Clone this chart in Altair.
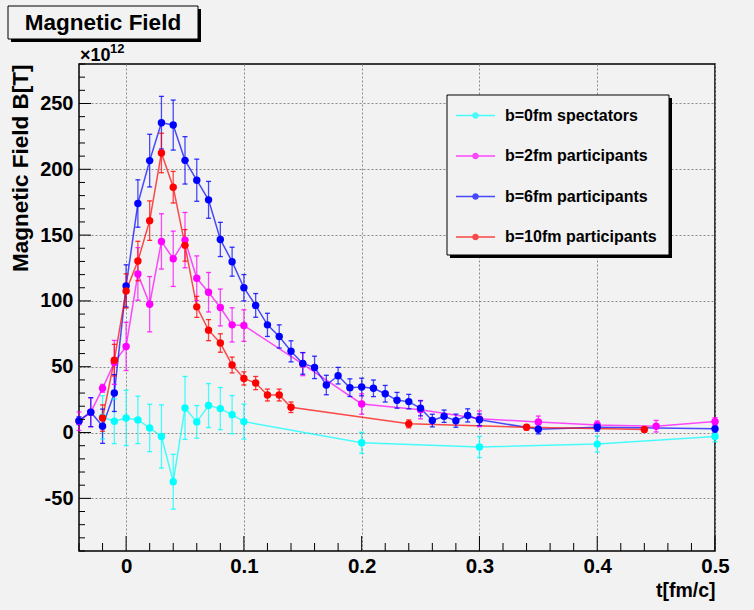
import altair as alt
import pandas as pd

# ---------------- data ----------------
names = ["b=0fm spectators", "b=2fm participants", "b=6fm participants", "b=10fm participants"]
colors = ["#00ffff", "#ff00ff", "#0000ff", "#ff0000"]

t_b0 = [-0.02, -0.01, 0.0, 0.01, 0.02, 0.03, 0.04, 0.05, 0.06, 0.07, 0.08, 0.09, 0.1, 0.2, 0.3, 0.4, 0.5]
B_b0 = [11.6, 8.6, 11.1, 9.6, 3.5, -3.0, -37.4, 18.7, 8.1, 20.5, 18.2, 13.6, 8.3, -7.8, -11.0, -8.8, -3.0]
E_b0 = [16.4, 17.0, 21.0, 18.0, 18.0, 24.0, 20.8, 23.9, 12.4, 16.7, 16.0, 14.5, 13.3, 8.0, 8.0, 6.0, 4.0]

t_b2 = [-0.04, -0.03, -0.02, -0.01, 0.0, 0.01, 0.02, 0.03, 0.04, 0.05, 0.06, 0.07, 0.08, 0.09, 0.1,
        0.15, 0.2, 0.25, 0.3, 0.35, 0.4, 0.45, 0.5]
B_b2 = [8.6, 15.4, 33.6, 53.3, 65.4, 120.5, 97.5, 145.2, 132.0, 146.2, 117.2, 106.6, 95.0, 81.8, 81.3,
        52.0, 21.7, 17.4, 10.4, 8.1, 5.8, 4.8, 8.3]
E_b2 = [7.0, 11.0, 3.0, 16.7, 18.3, 20.0, 21.0, 21.0, 21.0, 21.0, 17.0, 15.0, 14.0, 13.0, 12.0,
        8.8, 7.8, 7.0, 6.0, 4.4, 3.0, 4.4, 3.0]

t_b6 = [-0.04, -0.03, -0.02, -0.01, 0.0, 0.01, 0.02, 0.03, 0.04, 0.05, 0.06, 0.07, 0.08, 0.09, 0.1,
        0.11, 0.12, 0.13, 0.14, 0.15, 0.16, 0.17, 0.18, 0.19, 0.2, 0.21, 0.22, 0.23, 0.24, 0.25,
        0.26, 0.27, 0.28, 0.29, 0.3, 0.35, 0.4, 0.5]
B_b6 = [9.0, 15.5, 4.8, 30.0, 111.4, 174.0, 206.6, 235.4, 233.6, 206.8, 191.7, 176.8, 146.7, 129.8, 110.0,
        96.6, 81.8, 73.0, 61.7, 52.5, 49.5, 36.1, 43.2, 34.1, 34.6, 33.6, 29.5, 24.5, 23.5, 18.4,
        9.1, 12.4, 9.0, 13.0, 9.7, 2.5, 4.0, 2.8]
E_b6 = [3.0, 11.0, 13.0, 14.0, 16.0, 18.0, 20.0, 20.0, 19.0, 18.0, 16.0, 14.0, 13.0, 11.0, 10.0,
        9.0, 8.8, 8.8, 8.0, 8.2, 8.5, 7.4, 6.3, 6.7, 6.7, 6.3, 6.3, 6.0, 5.5, 5.7,
        4.8, 4.7, 5.0, 5.0, 4.4, 3.5, 3.0, 3.0]

t_b10 = [-0.02, -0.01, 0.0, 0.01, 0.02, 0.03, 0.04, 0.05, 0.06, 0.07, 0.08, 0.09, 0.1, 0.11, 0.12, 0.13,
         0.14, 0.24, 0.34, 0.44]
B_b10 = [11.0, 55.0, 107.6, 130.3, 161.0, 212.4, 186.4, 142.2, 95.5, 77.8, 68.0, 51.3, 41.1, 37.6, 28.5,
         28.5, 19.2, 6.6, 4.0, 2.3]
E_b10 = [10.0, 12.0, 13.0, 15.0, 15.0, 15.0, 12.0, 12.0, 8.0, 8.0, 7.0, 6.0, 5.0, 5.0, 4.5, 4.5,
         4.0, 3.0, 2.0, 2.0]

# axis tick positions
x_major = [0.0, 0.1, 0.2, 0.3, 0.4, 0.5]
x_minor = [-0.04, -0.02, 0.02, 0.04, 0.06, 0.08, 0.12, 0.14, 0.16, 0.18, 0.22, 0.24, 0.26, 0.28,
           0.32, 0.34, 0.36, 0.38, 0.42, 0.44, 0.46, 0.48]
y_major = [-50, 0, 50, 100, 150, 200, 250]
y_minor = [v for v in range(-90, 281, 10) if v % 50 != 0]

# ---------------- tables ----------------
rows = []
for name, ts, bs, es in zip(names, [t_b0, t_b2, t_b6, t_b10], [B_b0, B_b2, B_b6, B_b10],
                            [E_b0, E_b2, E_b6, E_b10]):
    for i, (t, b, e) in enumerate(zip(ts, bs, es)):
        rows.append({"series": name, "t": t, "B": b, "lo": b - e, "hi": b + e, "i": i})
df = pd.DataFrame(rows)

xmaj = pd.DataFrame({"t": x_major})
xmin = pd.DataFrame({"t": x_minor})
ymaj = pd.DataFrame({"B": y_major})
ymin = pd.DataFrame({"B": y_minor})
one = pd.DataFrame({"k": [0]})

# ---------------- styling ----------------
W, H = 636, 487
FONT = "Liberation Sans"
BG = "#f2f2f2"

xs = alt.Scale(domain=[-0.04, 0.5], nice=False, zero=False)
ys = alt.Scale(domain=[-90, 280], nice=False, zero=False)
cs = alt.Scale(domain=names, range=colors)

xaxis = alt.Axis(values=x_major, labelExpr="'' + round(datum.value*10)/10", grid=True,
                 gridDash=[2, 2], gridColor="#8a8a8a", gridWidth=1, domain=False, ticks=False,
                 labelFont=FONT, labelFontSize=20.5, labelFontWeight="bold", labelColor="black",
                 labelPadding=5, labelFlush=False, title="t[fm/c]", titleAnchor="end",
                 titleFont=FONT, titleFontSize=19.5, titleFontWeight="bold", titleColor="black",
                 titlePadding=5)
yaxis = alt.Axis(values=y_major, labelExpr="'' + datum.value", grid=True,
                 gridDash=[2, 2], gridColor="#8a8a8a", gridWidth=1, domain=False, ticks=False,
                 labelFont=FONT, labelFontSize=20, labelFontWeight="bold", labelColor="black",
                 labelPadding=6, labelFlush=False, title="Magnetic Field B[T]", titleAnchor="end",
                 titleFont=FONT, titleFontSize=22.5, titleFontWeight="bold", titleColor="black",
                 titlePadding=7)


def X(field="t"):
    return alt.X(f"{field}:Q", scale=xs, axis=xaxis, title="t[fm/c]")


def Y(field="B"):
    return alt.Y(f"{field}:Q", scale=ys, axis=yaxis, title="Magnetic Field B[T]")


legend_symbol = ("M-1,0L1,0"
                 "M0.13,0A0.13,0.13,0,1,1,-0.13,0A0.13,0.13,0,1,1,0.13,0"
                 "M0.07,0A0.07,0.07,0,1,1,-0.07,0A0.07,0.07,0,1,1,0.07,0")

base = alt.Chart(df)

lines = base.mark_line(strokeWidth=1.5, opacity=0.7).encode(
    x=X(), y=Y(),
    color=alt.Color("series:N", scale=cs, sort=names,
                    legend=alt.Legend(orient="none", legendX=376, legendY=31, title=None,
                                      symbolType=legend_symbol, symbolSize=1521,
                                      symbolStrokeWidth=1.6, labelFont=FONT, labelFontSize=16,
                                      labelFontWeight="bold", labelColor="black",
                                      rowPadding=11.5, padding=0, labelOffset=9,
                                      labelLimit=300)),
    detail="series:N",
    order="i:Q",
)

err_rule = base.mark_rule(strokeWidth=1.3, opacity=0.7).encode(
    x=X(), y=Y("lo"), y2="hi:Q",
    color=alt.Color("series:N", scale=cs, legend=None),
)
err_lo = base.mark_tick(orient="horizontal", size=5, thickness=1.3, opacity=0.8).encode(
    x=X(), y=Y("lo"),
    color=alt.Color("series:N", scale=cs, legend=None),
)
err_hi = base.mark_tick(orient="horizontal", size=5, thickness=1.3, opacity=0.8).encode(
    x=X(), y=Y("hi"),
    color=alt.Color("series:N", scale=cs, legend=None),
)
points = base.mark_circle(size=55, opacity=1).encode(
    x=X(), y=Y(),
    color=alt.Color("series:N", scale=cs, legend=None),
)

# inward ticks (ROOT style)
xt_major = alt.Chart(xmaj).mark_rule(color="black", strokeWidth=1).encode(
    x=X(), y=alt.value(H), y2=alt.value(H - 15))
xt_minor = alt.Chart(xmin).mark_rule(color="black", strokeWidth=1).encode(
    x=X(), y=alt.value(H), y2=alt.value(H - 8))
yt_major = alt.Chart(ymaj).mark_rule(color="black", strokeWidth=1).encode(
    y=Y(), x=alt.value(0), x2=alt.value(12))
yt_minor = alt.Chart(ymin).mark_rule(color="black", strokeWidth=1).encode(
    y=Y(), x=alt.value(0), x2=alt.value(6))

# decorations: title box, legend box, exponent
ann = alt.Chart(one)
title_shadow = ann.mark_rect(color="black").encode(
    x=alt.value(-68), x2=alt.value(122), y=alt.value(-55), y2=alt.value(-22))
title_box = ann.mark_rect(fill=BG, stroke="black", strokeWidth=1).encode(
    x=alt.value(-71), x2=alt.value(119), y=alt.value(-58), y2=alt.value(-25))
title_text = ann.mark_text(text="Magnetic Field", font=FONT, fontSize=22.5, fontWeight="bold",
                           color="black", align="center", baseline="middle").encode(
    x=alt.value(24), y=alt.value(-41))
leg_shadow = ann.mark_rect(color="black").encode(
    x=alt.value(371), x2=alt.value(593), y=alt.value(34), y2=alt.value(194))
leg_box = ann.mark_rect(fill=BG, stroke="black", strokeWidth=1).encode(
    x=alt.value(368), x2=alt.value(590), y=alt.value(31), y2=alt.value(191))
exp_base = ann.mark_text(text="\u00d710", font=FONT, fontSize=18, fontWeight="bold",
                         color="black", align="left", baseline="alphabetic").encode(
    x=alt.value(1), y=alt.value(-3))
exp_sup = ann.mark_text(text="12", font=FONT, fontSize=13, fontWeight="bold",
                        color="black", align="left", baseline="alphabetic").encode(
    x=alt.value(31), y=alt.value(-11))

chart = alt.layer(
    lines, err_rule, err_lo, err_hi, points,
    xt_major, xt_minor, yt_major, yt_minor,
    title_shadow, title_box, title_text, leg_shadow, leg_box, exp_base, exp_sup,
).properties(
    width=W, height=H,
    autosize=alt.AutoSizeParams(type="none"),
    padding={"left": 79, "top": 64, "right": 39, "bottom": 59},
    background=BG,
).configure_view(
    stroke="black", strokeWidth=1.5, fill=BG
)

chart.save("out.html", embed_options={"renderer": "svg", "actions": False})
